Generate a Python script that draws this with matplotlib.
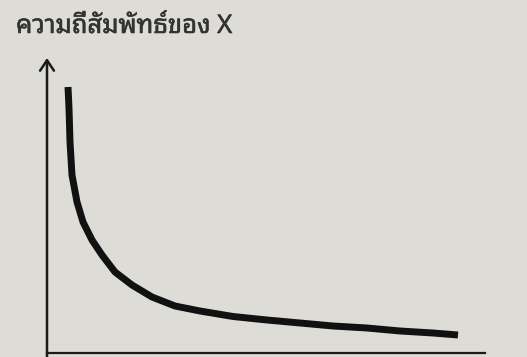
import matplotlib
matplotlib.use('Agg')
import matplotlib.pyplot as plt
import matplotlib.patheffects as pe
from matplotlib import font_manager

# relative frequency curve of X (arbitrary units)
x_vals = [21, 22, 23, 25, 30, 36, 45, 55, 68, 85, 105, 128,
          153, 186, 220, 253, 286, 320, 353, 386, 411]
freq   = [266, 245, 211, 178, 151, 131, 113, 98, 81, 68, 56, 47,
          42, 36.5, 33, 30, 27, 25, 22, 20, 18]

title = 'ความถี่สัมพัทธ์ของ X'

# pick a font that can show Thai, looped sans first
names = {f.name for f in font_manager.fontManager.ttflist}
prefer = ['Noto Sans Thai Looped', 'Loma', 'Garuda', 'Noto Sans Thai',
          'Noto Serif Thai', 'Norasi', 'Sawasdee']
thai = [n for n in prefer if n in names]
thai += sorted(n for n in names if 'Thai' in n and n not in thai)
plt.rcParams['font.family'] = thai + ['DejaVu Sans']

bg = '#dddcd6'
fig = plt.figure(figsize=(5.27, 3.57), dpi=100, facecolor=bg)
ax = fig.add_axes([47/527, 4/357, 438/527, 295/357])
ax.set_facecolor(bg)
ax.set_xlim(0, 438)
ax.set_ylim(0, 295)

ax.plot(x_vals, freq, color='#111111', lw=5, solid_capstyle='butt',
        solid_joinstyle='round')

#axes: plain x line and y arrow
for s in ['top', 'right', 'left']:
    ax.spines[s].set_visible(False)
ax.spines['bottom'].set_linewidth(1.6)
ax.spines['bottom'].set_color('#1a1a1a')
ax.annotate('', xy=(0, 1), xytext=(0, -0.02), xycoords='axes fraction',
            arrowprops=dict(arrowstyle='->,head_length=0.75,head_width=0.5',
                            lw=1.8, color='#1a1a1a', shrinkA=0, shrinkB=0))
ax.set_xticks([])
ax.set_yticks([])

fig.text(16/527, 1 - 33/357, title, fontsize=18.5, fontweight='bold',
         color='#333333', va='baseline', ha='left',
         path_effects=[pe.withStroke(linewidth=0.4, foreground='#333333')])

fig.savefig('out.png', dpi=100, facecolor=bg)
